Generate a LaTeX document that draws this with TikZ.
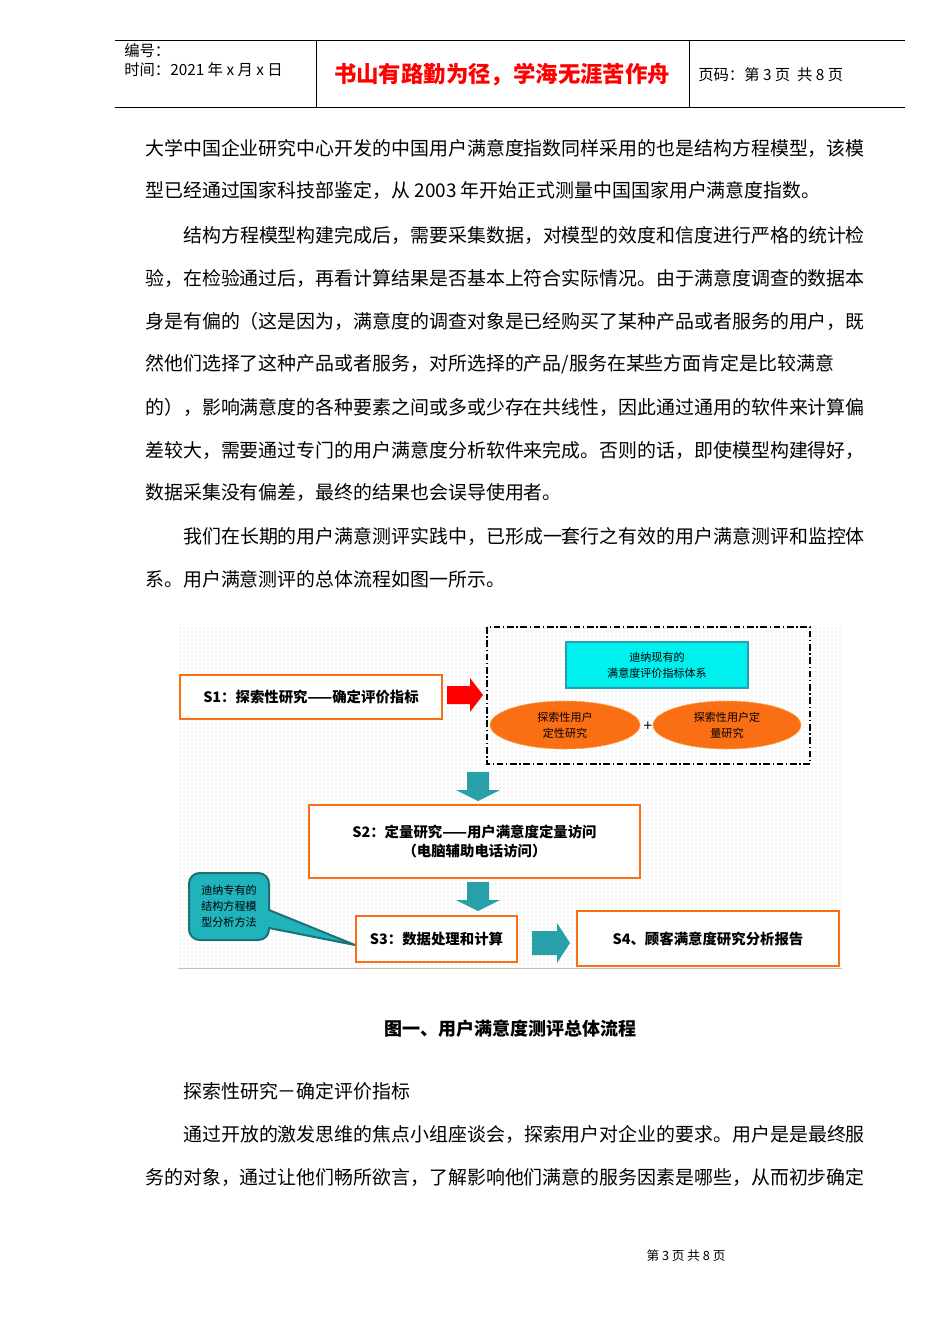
\documentclass[tikz,border=0pt]{standalone}
\usepackage{fontspec}
\setmainfont{Liberation Serif}
\newfontfamily\cjk{Noto Sans CJK SC}
\newfontfamily\djsans{DejaVu Sans}
\usetikzlibrary{patterns,shapes.geometric,shapes.arrows}
\definecolor{org}{RGB}{250,110,20}
\definecolor{teal1}{RGB}{40,160,170}
\definecolor{cyanb}{RGB}{0,240,240}
\begin{document}
\begin{tikzpicture}[x=0.75pt,y=-0.75pt,
  body/.style={anchor=west,inner sep=0,font=\cjk\fontsize{14.2}{15}\selectfont},
  obox/.style={draw=org,line width=2.2pt,fill=white},
  dtxt/.style={font=\cjk\bfseries\fontsize{10.8}{14}\selectfont,align=center},
  stxt/.style={font=\cjk\fontsize{8.3}{12}\selectfont,align=center},
  tarrow/.style={fill=teal1,draw=none}]
\useasboundingbox (0,0) rectangle (950,1344);
\fill[white] (0,0) rectangle (950,1344);
% header
\draw[line width=0.6pt] (115,40) -- (905,40) (115,107) -- (905,107) (316,40) -- (316,107) (689,40) -- (689,107);
\node[body,font=\cjk\fontsize{11.5}{12}\selectfont] (h1) at (124,51) {编号：};
\node[body,font=\cjk\fontsize{11.5}{12}\selectfont] (h2) at (124,70) {时间：2021 年 x 月 x 日};
\node[inner sep=0,font=\cjk\bfseries\fontsize{16.8}{18}\selectfont,text=red] (h3) at (502,75) {书山有路勤为径，学海无涯苦作舟};
\node[body,font=\cjk\fontsize{11.5}{12}\selectfont] (h4) at (698,75) {页码：第 3 页\ \ 共 8 页};
% body
\node[body] (l1) at (145,148) {大学中国企业研究中心开发的中国用户满意度指数同样采用的也是结构方程模型，该模};
\node[body] (l2) at (145,190) {型已经通过国家科技部鉴定，从 2003 年开始正式测量中国国家用户满意度指数。};
\node[body] (l3) at (183,235) {结构方程模型构建完成后，需要采集数据，对模型的效度和信度进行严格的统计检};
\node[body] (l4) at (145,278) {验，在检验通过后，再看计算结果是否基本上符合实际情况。由于满意度调查的数据本};
\node[body] (l5) at (145,321) {身是有偏的（这是因为，满意度的调查对象是已经购买了某种产品或者服务的用户，既};
\node[body] (l6) at (145,364) {然他们选择了这种产品或者服务，对所选择的产品/服务在某些方面肯定是比较满意};
\node[body] (l7) at (145,407) {的），影响满意度的各种要素之间或多或少存在共线性，因此通过通用的软件来计算偏};
\node[body] (l8) at (145,450) {差较大，需要通过专门的用户满意度分析软件来完成。否则的话，即使模型构建得好，};
\node[body] (l9) at (145,493) {数据采集没有偏差，最终的结果也会误导使用者。};
\node[body] (l10) at (183,536) {我们在长期的用户满意测评实践中，已形成一套行之有效的用户满意测评和监控体};
\node[body] (l11) at (145,579) {系。用户满意测评的总体流程如图一所示。};
% diagram background
\fill[pattern=dots,pattern color=gray!40] (178,625) rectangle (842,968);
\draw[gray!50] (178,968) -- (842,968);
% dashed group
\draw[line width=1.3pt,dash pattern=on 5pt off 2pt on 1pt off 2pt] (487,627) rectangle (810,764);
\node[obox,minimum width=262*0.75pt,minimum height=44*0.75pt,dtxt] (s1) at (311,697) {S1：探索性研究——确定评价指标};
\fill[red] (447,686) -- (470,686) -- (470,678) -- (483,695) -- (470,712) -- (470,704) -- (447,704) -- cycle;
\node[draw=teal1,line width=2pt,fill=cyanb,minimum width=182*0.75pt,minimum height=46*0.75pt,stxt] (c1) at (657,665) {迪纳现有的\\满意度评价指标体系};
\node[ellipse,fill=org,draw=orange!70,minimum width=150*0.75pt,minimum height=48*0.75pt,stxt,inner sep=0] (e1) at (565,725) {探索性用户\\定性研究};
\node[ellipse,fill=org,draw=orange!70,minimum width=148*0.75pt,minimum height=48*0.75pt,stxt,inner sep=0] (e2) at (727,725) {探索性用户定\\量研究};
\node[font=\djsans\fontsize{9}{10}\selectfont,inner sep=0] (plus) at (648,726) {+};
% arrows
\fill[teal1] (467,772) -- (489,772) -- (489,790) -- (500,790) -- (478,801) -- (456,790) -- (467,790) -- cycle;
\node[obox,minimum width=331*0.75pt,minimum height=73*0.75pt,dtxt] (s2) at (474.5,841.5) {S2：定量研究——用户满意度定量访问\\（电脑辅助电话访问）};
\fill[teal1] (467,882) -- (489,882) -- (489,900) -- (500,900) -- (478,911) -- (456,900) -- (467,900) -- cycle;
\node[obox,minimum width=161*0.75pt,minimum height=46*0.75pt,dtxt] (s3) at (436.5,939) {S3：数据处理和计算};
\node[obox,minimum width=262*0.75pt,minimum height=55*0.75pt,dtxt] (s4) at (708,938.5) {S4、顾客满意度研究分析报告};
\fill[teal1] (532,931) -- (557,931) -- (557,923) -- (570,943) -- (557,963) -- (557,955) -- (532,955) -- cycle;
% callout
\filldraw[fill=teal1!80!cyan,draw=teal1!70!black,line width=1.5pt,rounded corners=8pt] (189,873) -- (269,873) [sharp corners] -- (269,910) -- (355,945) -- (269,928) [rounded corners=8pt] -- (269,940) -- (189,940) -- cycle;
\node[stxt,inner sep=0] (co) at (229,906) {迪纳专有的\\结构方程模\\型分析方法};
% caption and rest
\node[inner sep=0,font=\cjk\bfseries\fontsize{13.5}{14}\selectfont] (cap) at (510,1029) {图一、用户满意度测评总体流程};
\node[body] (p1) at (183,1091) {探索性研究－确定评价指标};
\node[body] (p2) at (183,1134) {通过开放的激发思维的焦点小组座谈会，探索用户对企业的要求。用户是是最终服};
\node[body] (p3) at (145,1177) {务的对象，通过让他们畅所欲言，了解影响他们满意的服务因素是哪些，从而初步确定};
\node[inner sep=0,font=\cjk\fontsize{9.5}{10}\selectfont] (ft) at (686,1256) {第\ 3\ 页\ 共\ 8\ 页};
\end{tikzpicture}
\end{document}
